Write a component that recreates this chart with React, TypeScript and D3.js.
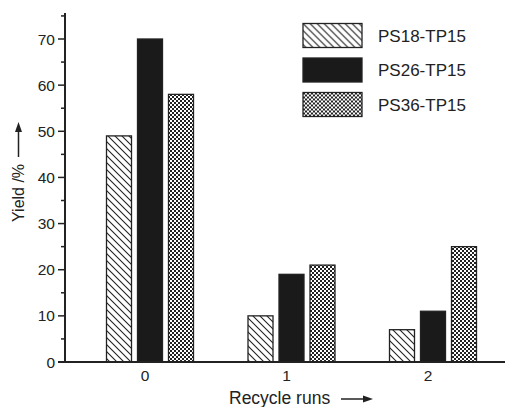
import React from "react";
import * as d3 from "d3";

const categories = ["0", "1", "2"];
const seriesNames = ["PS18-TP15", "PS26-TP15", "PS36-TP15"];
const ps18 = [49, 10, 7];
const ps26 = [70, 19, 11];
const ps36 = [58, 21, 25];
const yTicks = [0, 10, 20, 30, 40, 50, 60, 70];
const yMinorTicks = [5, 15, 25, 35, 45, 55, 65, 75];

const W = 507;
const H = 407;
const x0 = 65;
const y0 = 362;

export default function App() {
  const y = d3.scaleLinear().domain([0, 70]).range([y0, 39]);
  const x = d3.scalePoint().domain(categories).range([145, 428]);
  const series = [ps18, ps26, ps36];
  const fills = ["url(#hatch)", "#1a1a1a", "url(#checker)"];
  const barW = 25;
  const step = 31;
  const font = "Arial, 'Liberation Sans', Helvetica, sans-serif";

  return (
    <svg
      width={W}
      height={H}
      style={{ position: "absolute", left: 0, top: 0, background: "#fff" }}
      fontFamily={font}
    >
      <defs>
        <pattern id="hatch" patternUnits="userSpaceOnUse" width="7" height="7">
          <rect width="7" height="7" fill="#fff" />
          <path d="M-1,-1 L8,8 M-1,6 L1,8 M6,-1 L8,1" stroke="#222" strokeWidth="1.1" />
        </pattern>
        <pattern id="checker" patternUnits="userSpaceOnUse" width="4" height="4">
          <rect width="4" height="4" fill="#fff" />
          <rect x="0" y="0" width="2" height="2" fill="#222" />
          <rect x="2" y="2" width="2" height="2" fill="#222" />
        </pattern>
      </defs>

      {/* bars */}
      {categories.map((c, ci) =>
        series.map((s, si) => {
          const cx = (x(c) as number) + 5 + (si - 1) * step;
          const v = s[ci];
          return (
            <rect
              key={c + "-" + si}
              x={cx - barW / 2}
              y={y(v)}
              width={barW}
              height={y0 - y(v)}
              fill={fills[si]}
              stroke="#222"
              strokeWidth={1.3}
            />
          );
        })
      )}

      {/* y axis */}
      <line x1={x0} x2={x0} y1={13} y2={y0} stroke="#222" strokeWidth={2} />
      {yTicks.map((t) => (
        <g key={"t" + t}>
          <line x1={x0 - 7} x2={x0} y1={y(t)} y2={y(t)} stroke="#222" strokeWidth={1.5} />
          <text x={x0 - 10} y={y(t)} dy="0.36em" textAnchor="end" fontSize={15.5} fill="#222">
            {t}
          </text>
        </g>
      ))}
      {yMinorTicks.map((t) => (
        <line key={"m" + t} x1={x0 - 4} x2={x0} y1={y(t)} y2={y(t)} stroke="#222" strokeWidth={1.5} />
      ))}

      {/* x axis */}
      <line x1={x0 - 7} x2={505} y1={y0} y2={y0} stroke="#222" strokeWidth={2} />
      {categories.map((c) => (
        <text key={"x" + c} x={x(c) as number} y={381} textAnchor="middle" fontSize={15.5} fill="#222">
          {c}
        </text>
      ))}
      <text x={229} y={404} fontSize={17.5} fill="#222">Recycle runs</text>
      <line x1={341} x2={366} y1={399} y2={399} stroke="#222" strokeWidth={1.5} />
      <path d="M373,399 L363,395.5 L363,402.5 Z" fill="#222" />

      {/* y label */}
      <g transform="translate(24,222) rotate(-90)">
        <text x={0} y={0} fontSize={16} fill="#222">Yield /%</text>
        <line x1={65} x2={92} y1={-5.5} y2={-5.5} stroke="#222" strokeWidth={1.5} />
        <path d="M100,-5.5 L90,-9 L90,-2 Z" fill="#222" />
      </g>

      {/* legend */}
      {seriesNames.map((n, i) => (
        <g key={n} transform={`translate(303,${23.5 + i * 34.5})`}>
          <rect x={0} y={0} width={59} height={24} fill={fills[i]} stroke="#222" strokeWidth={1.3} />
          <text x={75} y={12} dy="0.36em" fontSize={17} fill="#222">
            {n}
          </text>
        </g>
      ))}
    </svg>
  );
}
